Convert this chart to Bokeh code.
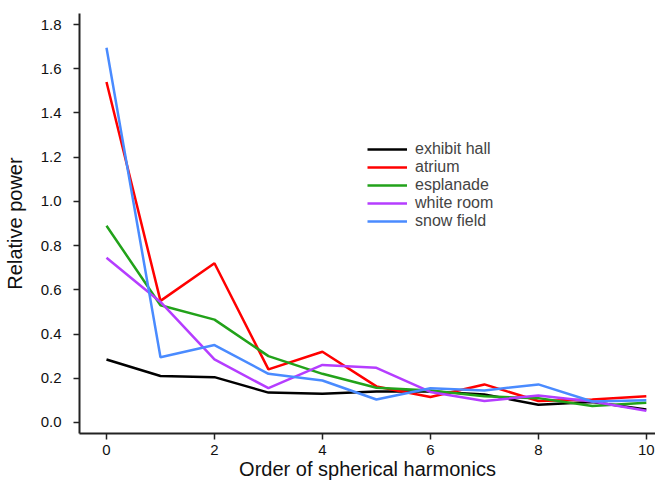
from bokeh.plotting import figure
from bokeh.models import Range1d, Legend, LegendItem, FixedTicker, CustomJSTickFormatter
from bokeh.embed import file_html
from bokeh.resources import INLINE

orders = [0, 1, 2, 3, 4, 5, 6, 7, 8, 9, 10]
exhibit_hall = [0.285, 0.21, 0.205, 0.135, 0.13, 0.14, 0.14, 0.127, 0.08, 0.092, 0.059]
atrium = [1.54, 0.55, 0.72, 0.24, 0.32, 0.163, 0.115, 0.172, 0.097, 0.104, 0.118]
esplanade = [0.89, 0.53, 0.465, 0.30, 0.22, 0.157, 0.145, 0.118, 0.11, 0.074, 0.089]
white_room = [0.745, 0.545, 0.285, 0.155, 0.26, 0.247, 0.138, 0.097, 0.122, 0.095, 0.053]
snow_field = [1.695, 0.295, 0.35, 0.22, 0.19, 0.104, 0.155, 0.145, 0.172, 0.095, 0.10]

series_names = ["exhibit hall", "atrium", "esplanade", "white room", "snow field"]
series_values = [exhibit_hall, atrium, esplanade, white_room, snow_field]
series_colors = ["#000000", "#ff0000", "#22a21a", "#b53dff", "#4a8bff"]

x_ticks = [0, 2, 4, 6, 8, 10]
y_ticks = [0.0, 0.2, 0.4, 0.6, 0.8, 1.0, 1.2, 1.4, 1.6, 1.8]
x_title = "Order of spherical harmonics"
y_title = "Relative power"

FONT = "Liberation Sans"

p = figure(width=655, height=484, output_backend="svg", toolbar_location=None,
           x_range=Range1d(-0.5, 10.17), y_range=Range1d(-0.05, 1.85),
           min_border_left=78, min_border_right=0, min_border_top=13, min_border_bottom=51)
p.outline_line_color = None
p.xgrid.visible = False
p.ygrid.visible = False
p.background_fill_color = "white"

items = []
for name, vals, col in zip(series_names, series_values, series_colors):
    r = p.line(orders, vals, line_color=col, line_width=2.5)
    items.append(LegendItem(label=name, renderers=[r]))

legend = Legend(items=items, location=(288, 203), border_line_color=None,
                background_fill_alpha=0, padding=0, margin=0, spacing=0,
                glyph_width=40, glyph_height=18, label_height=18,
                label_standoff=8, label_text_font=FONT, label_text_font_size="16px")
p.add_layout(legend, "center")

for ax in (p.xaxis[0], p.yaxis[0]):
    ax.axis_line_width = 2
    ax.axis_line_color = "#222222"
    ax.major_tick_line_width = 1.5
    ax.major_tick_line_color = "#222222"
    ax.major_tick_out = 6
    ax.major_tick_in = 0
    ax.minor_tick_line_color = None
    ax.major_label_text_font = FONT
    ax.major_label_text_font_size = "15px"
    ax.major_label_text_color = "#111111"
    ax.axis_label_text_font = FONT
    ax.axis_label_text_font_size = "20px"
    ax.axis_label_text_font_style = "normal"
    ax.axis_label_text_color = "#111111"

p.xaxis.ticker = FixedTicker(ticks=x_ticks)
p.yaxis.ticker = FixedTicker(ticks=y_ticks)
p.yaxis.formatter = CustomJSTickFormatter(code="return tick.toFixed(1);")
p.xaxis.axis_label = x_title
p.yaxis.axis_label = y_title
p.xaxis.major_label_standoff = 5
p.yaxis.major_label_standoff = 12
p.xaxis.axis_label_standoff = 0
p.yaxis.axis_label_standoff = 12

open("out.html", "w").write(file_html(p, INLINE))
